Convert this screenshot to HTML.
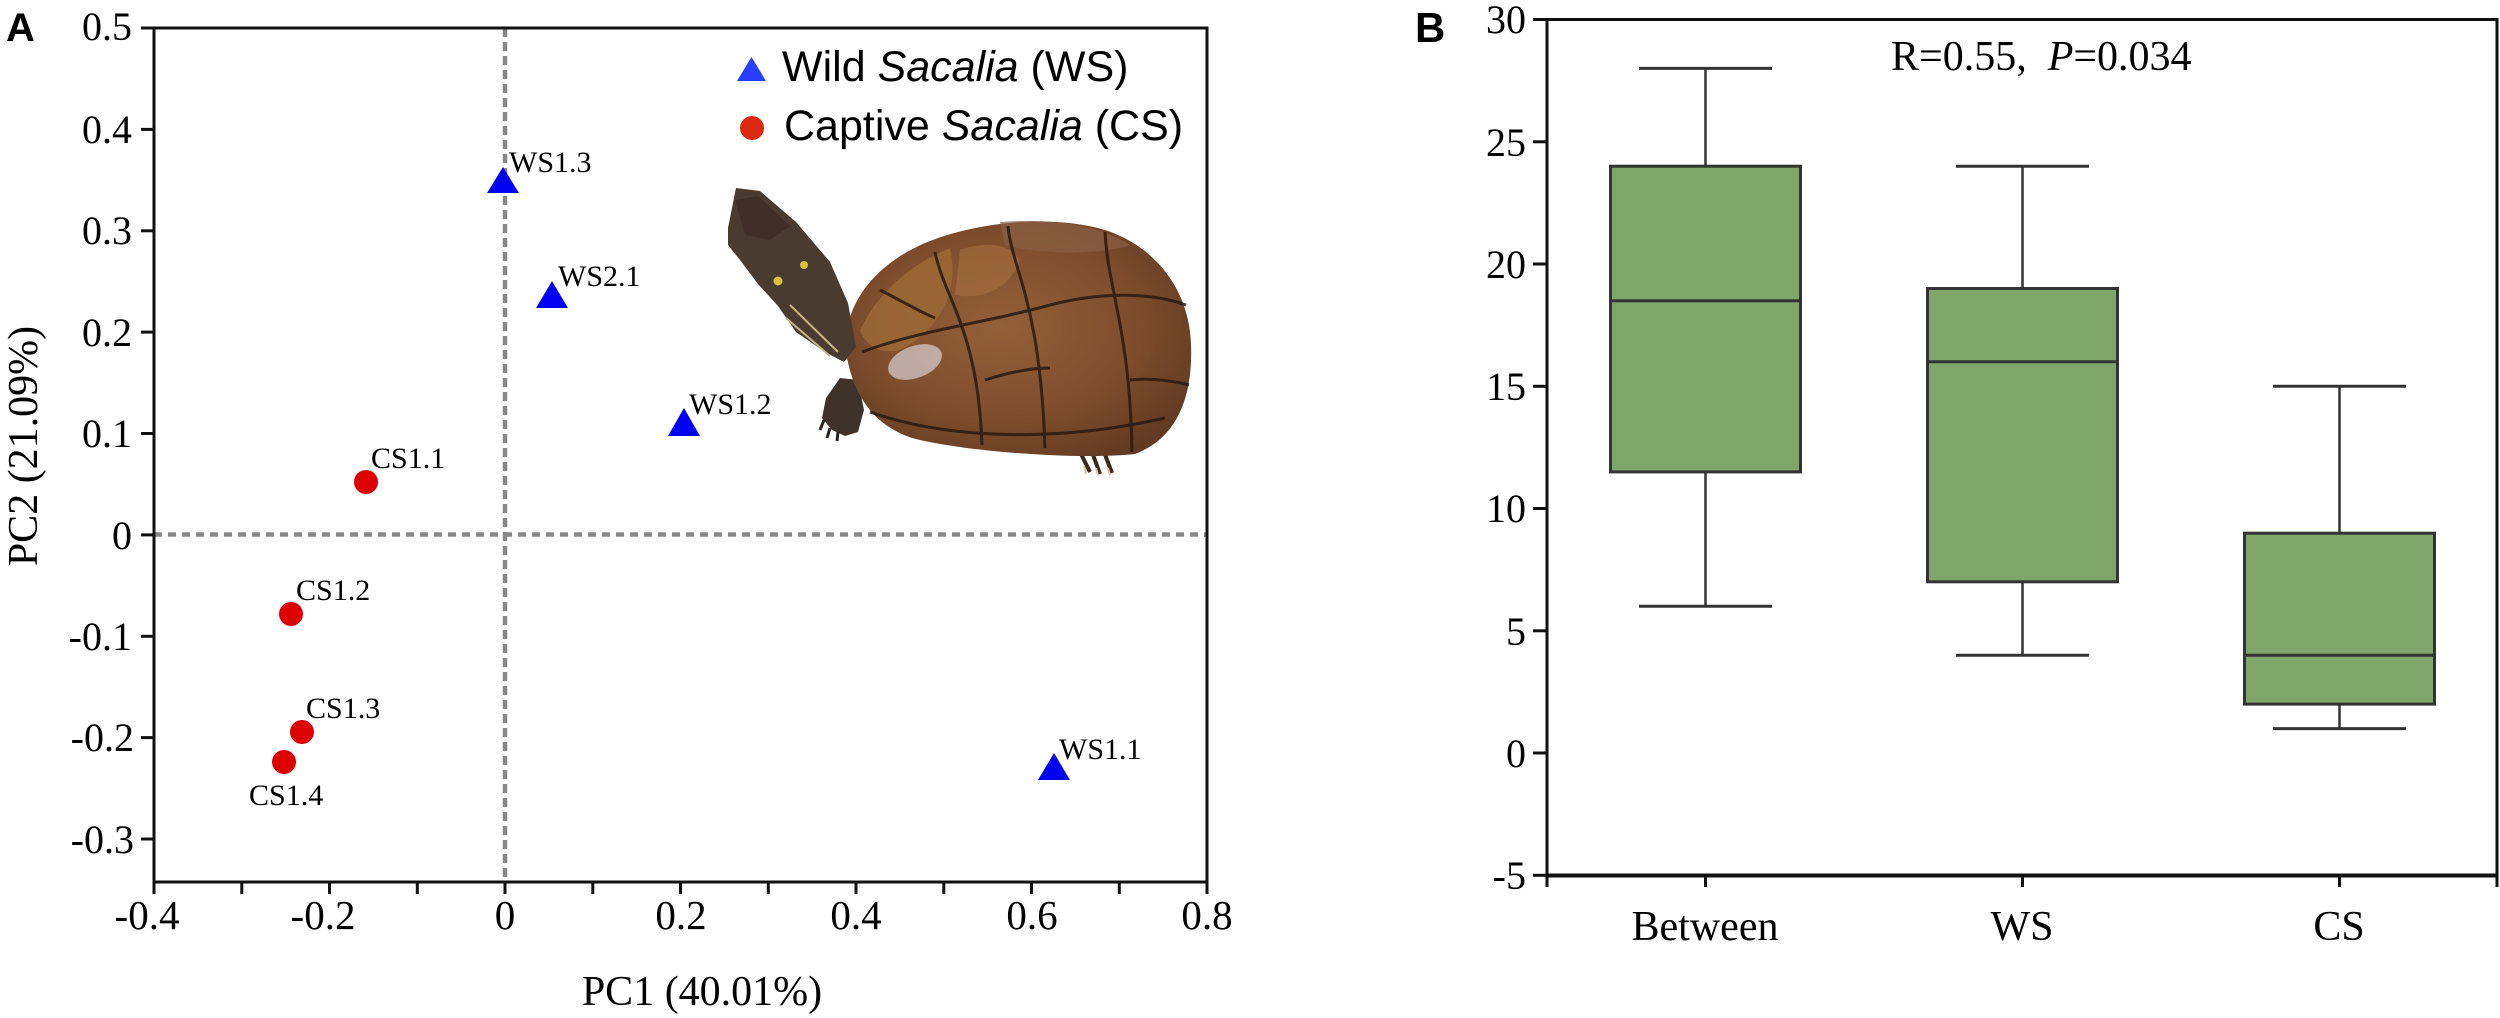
<!DOCTYPE html>
<html><head><meta charset="utf-8"><style>
html,body{margin:0;padding:0;background:#fff;}
svg{display:block;}
.serif{font-family:"Liberation Serif","Times New Roman",serif;}
.sans{font-family:"Liberation Sans",Arial,sans-serif;}
</style></head><body>
<svg width="2500" height="1018" viewBox="0 0 2500 1018" xmlns="http://www.w3.org/2000/svg">
<defs>
<radialGradient id="shell" cx="0.45" cy="0.45" r="0.65">
<stop offset="0" stop-color="#94603a"/><stop offset="0.6" stop-color="#7e4d2c"/><stop offset="1" stop-color="#603a22"/>
</radialGradient>
</defs>
<rect width="2500" height="1018" fill="#fff"/>

<!-- ============ PANEL A ============ -->
<text class="sans" x="6" y="41" font-size="40" font-weight="bold">A</text>

<!-- dashed zero lines -->
<line x1="154" y1="534.5" x2="1207" y2="534.5" stroke="#888" stroke-width="4.5" stroke-dasharray="8 6"/>
<line x1="505" y1="28" x2="505" y2="882" stroke="#888" stroke-width="4.5" stroke-dasharray="9 5"/>

<!-- frame & axes -->
<g stroke="#111" stroke-width="3" fill="none">
<line x1="154" y1="26.5" x2="154" y2="883.5"/>
<line x1="152.5" y1="882" x2="1208.5" y2="882"/>
<line x1="152.5" y1="28" x2="1208.5" y2="28"/>
<line x1="1207" y1="26.5" x2="1207" y2="883.5"/>
<line x1="141" y1="28" x2="154" y2="28"/>
<line x1="141" y1="129.4" x2="154" y2="129.4"/>
<line x1="141" y1="230.8" x2="154" y2="230.8"/>
<line x1="141" y1="332.1" x2="154" y2="332.1"/>
<line x1="141" y1="433.5" x2="154" y2="433.5"/>
<line x1="141" y1="534.9" x2="154" y2="534.9"/>
<line x1="141" y1="636.3" x2="154" y2="636.3"/>
<line x1="141" y1="737.6" x2="154" y2="737.6"/>
<line x1="141" y1="839" x2="154" y2="839"/>
<line x1="154" y1="882" x2="154" y2="894"/>
<line x1="241.8" y1="882" x2="241.8" y2="894"/>
<line x1="329.5" y1="882" x2="329.5" y2="894"/>
<line x1="417.3" y1="882" x2="417.3" y2="894"/>
<line x1="505" y1="882" x2="505" y2="894"/>
<line x1="592.8" y1="882" x2="592.8" y2="894"/>
<line x1="680.5" y1="882" x2="680.5" y2="894"/>
<line x1="768.3" y1="882" x2="768.3" y2="894"/>
<line x1="856" y1="882" x2="856" y2="894"/>
<line x1="943.8" y1="882" x2="943.8" y2="894"/>
<line x1="1031.5" y1="882" x2="1031.5" y2="894"/>
<line x1="1119.3" y1="882" x2="1119.3" y2="894"/>
<line x1="1207" y1="882" x2="1207" y2="894"/>
</g>

<g class="serif" font-size="40" text-anchor="end" fill="#000">
<text x="132" y="40">0.5</text>
<text x="132" y="143">0.4</text>
<text x="132" y="244">0.3</text>
<text x="132" y="346">0.2</text>
<text x="132" y="447">0.1</text>
<text x="132" y="549">0</text>
<text x="132" y="650">-0.1</text>
<text x="134" y="751">-0.2</text>
<text x="134" y="853">-0.3</text>
</g>
<g class="serif" font-size="41" text-anchor="middle" fill="#000">
<text x="147" y="929">-0.4</text>
<text x="323" y="929">-0.2</text>
<text x="505" y="929">0</text>
<text x="681" y="929">0.2</text>
<text x="856" y="929">0.4</text>
<text x="1032" y="929">0.6</text>
<text x="1207" y="929">0.8</text>
</g>
<text class="serif" x="702" y="1005" font-size="42" text-anchor="middle">PC1 (40.01%)</text>
<text class="serif" font-size="42" text-anchor="middle" transform="translate(37,446) rotate(-90)">PC2 (21.09%)</text>

<!-- turtle -->
<g>
<path d="M840,378 L858,380 L864,410 L858,432 L845,436 L832,430 L822,418 L826,398 Z" fill="#3e322b"/>
<path d="M824,420 l-4,10 M830,428 l-3,10 M838,432 l-1,9" stroke="#2a221c" stroke-width="3"/>
<path d="M1080,452 L1090,472 M1092,452 L1100,474 M1104,452 L1112,473" stroke="#3a2a1e" stroke-width="4"/>
<path d="M1084,466 l2,8 M1096,468 l2,7 M1108,468 l2,7" stroke="#d8c8a8" stroke-width="2"/>
<path d="M845,343 C848,300 875,265 925,243 C975,222 1050,214 1105,230 C1160,248 1190,295 1191,345 C1193,395 1178,438 1135,454 C1080,460 965,452 912,438 C875,426 850,395 845,343 Z" fill="url(#shell)"/>
<path d="M860,330 C880,290 910,265 950,248 C960,290 940,330 900,350 C880,355 865,345 860,330 Z" fill="#a06c38" opacity="0.75"/>
<path d="M960,250 C990,240 1010,245 1020,260 C1010,290 980,300 955,295 Z" fill="#a87040" opacity="0.6"/>
<path d="M1000,222 C1050,218 1100,225 1130,245 C1100,255 1040,255 1005,245 Z" fill="#8a6044" opacity="0.7"/>
<g stroke="#2a1a10" stroke-width="3" fill="none" opacity="0.85">
<path d="M870,412 C950,440 1060,442 1165,418"/>
<path d="M935,252 C945,300 978,330 982,445"/>
<path d="M1008,226 C1012,270 1040,300 1045,448"/>
<path d="M1105,232 C1108,290 1130,330 1132,452"/>
<path d="M862,352 C920,330 990,322 1050,305 C1100,292 1150,292 1186,305"/>
<path d="M880,290 C900,300 920,312 935,318"/>
<path d="M985,380 C1010,372 1030,368 1050,368"/>
<path d="M1130,380 C1150,378 1170,380 1189,385"/>
</g>
<ellipse cx="915" cy="362" rx="28" ry="16" fill="#e6e6f0" opacity="0.6" transform="rotate(-20 915 362)"/>
<path d="M728,228 L736,188 L760,191 L796,222 L830,262 L848,303 L856,347 L844,362 L825,352 L796,332 L778,306 L758,284 L740,260 L728,245 Z" fill="#4a3b31"/>
<path d="M735,200 L758,196 L790,226 L770,240 L745,235 Z" fill="#3f2f26"/>
<path d="M790,305 L838,352 M786,318 L830,356" stroke="#c8b48a" stroke-width="2" fill="none"/>
<circle cx="778" cy="281" r="4.5" fill="#d6c040"/>
<circle cx="804" cy="265" r="4" fill="#d6c040"/>
</g>

<!-- legend -->
<polygon points="751.5,57 766,81 737,81" fill="#2a3cff"/>
<text class="sans" x="782" y="81" font-size="43">Wild <tspan font-style="italic">Sacalia</tspan> (WS)</text>
<circle cx="752" cy="128" r="12" fill="#dc2a10"/>
<text class="sans" x="784" y="140" font-size="43">Captive <tspan font-style="italic">Sacalia</tspan> (CS)</text>

<!-- points -->
<g fill="#0000f0">
<polygon points="503,167 519,193 487,193"/>
<polygon points="552,281 568,308 536,308"/>
<polygon points="684,408 700,436 668,436"/>
<polygon points="1054,753 1070,780 1038,780"/>
</g>
<g fill="#dc0000">
<circle cx="366" cy="482" r="12"/>
<circle cx="291" cy="614" r="12"/>
<circle cx="302" cy="732" r="12"/>
<circle cx="284" cy="762" r="12"/>
</g>
<g class="serif" font-size="30" fill="#000">
<text x="509" y="172">WS1.3</text>
<text x="558" y="286">WS2.1</text>
<text x="689" y="414">WS1.2</text>
<text x="1059" y="759">WS1.1</text>
<text x="371" y="468">CS1.1</text>
<text x="296" y="600">CS1.2</text>
<text x="306" y="718">CS1.3</text>
<text x="249" y="805">CS1.4</text>
</g>

<!-- ============ PANEL B ============ -->
<text class="sans" x="1415" y="42" font-size="42" font-weight="bold">B</text>

<g stroke="#111" stroke-width="3" fill="none">
<line x1="1547" y1="18" x2="1547" y2="877"/>
<line x1="1545.5" y1="19.5" x2="2498.5" y2="19.5"/>
<line x1="2497" y1="18" x2="2497" y2="877"/>
<line x1="1545.5" y1="875.5" x2="2498.5" y2="875.5" stroke-width="4"/>
<line x1="1533" y1="19.5" x2="1547" y2="19.5"/>
<line x1="1533" y1="141.8" x2="1547" y2="141.8"/>
<line x1="1533" y1="264" x2="1547" y2="264"/>
<line x1="1533" y1="386.3" x2="1547" y2="386.3"/>
<line x1="1533" y1="508.5" x2="1547" y2="508.5"/>
<line x1="1533" y1="630.8" x2="1547" y2="630.8"/>
<line x1="1533" y1="753" x2="1547" y2="753"/>
<line x1="1533" y1="875.3" x2="1547" y2="875.3"/>
<line x1="1547" y1="875" x2="1547" y2="887"/>
<line x1="1705.5" y1="875" x2="1705.5" y2="887"/>
<line x1="2022.5" y1="875" x2="2022.5" y2="887"/>
<line x1="2339.5" y1="875" x2="2339.5" y2="887"/>
<line x1="2497" y1="875" x2="2497" y2="887"/>
</g>

<g class="serif" font-size="40" text-anchor="end" fill="#000">
<text x="1526" y="33">30</text>
<text x="1526" y="156">25</text>
<text x="1526" y="278">20</text>
<text x="1526" y="400">15</text>
<text x="1526" y="522">10</text>
<text x="1526" y="645">5</text>
<text x="1526" y="767">0</text>
<text x="1526" y="889">-5</text>
</g>

<g class="serif" font-size="42" text-anchor="middle" fill="#000">
<text x="1705" y="940">Between</text>
<text x="2022" y="940">WS</text>
<text x="2339" y="940">CS</text>
</g>

<text class="serif" x="1891" y="70" font-size="42">R=0.55,<tspan dx="21" font-style="italic">P</tspan>=0.034</text>

<g stroke="#333" stroke-width="2.5" fill="none">
<line x1="1705.5" y1="68.4" x2="1705.5" y2="166.2"/>
<line x1="1705.5" y1="471.9" x2="1705.5" y2="606.3"/>
<line x1="1639" y1="68.4" x2="1772" y2="68.4" stroke-width="3"/>
<line x1="1639" y1="606.3" x2="1772" y2="606.3" stroke-width="3"/>
<line x1="2022.5" y1="166.2" x2="2022.5" y2="288.5"/>
<line x1="2022.5" y1="581.8" x2="2022.5" y2="655.2"/>
<line x1="1956" y1="166.2" x2="2089" y2="166.2" stroke-width="3"/>
<line x1="1956" y1="655.2" x2="2089" y2="655.2" stroke-width="3"/>
<line x1="2339.5" y1="386.3" x2="2339.5" y2="533.2"/>
<line x1="2339.5" y1="704.1" x2="2339.5" y2="728.6"/>
<line x1="2273" y1="386.3" x2="2406" y2="386.3" stroke-width="3"/>
<line x1="2273" y1="728.6" x2="2406" y2="728.6" stroke-width="3"/>
</g>
<g fill="#7fa56b" stroke="#333" stroke-width="3">
<rect x="1610.5" y="166.2" width="190" height="305.7"/>
<rect x="1927.5" y="288.5" width="190" height="293.3"/>
<rect x="2244.5" y="533.2" width="190" height="170.9"/>
</g>
<g stroke="#333" stroke-width="3">
<line x1="1610.5" y1="300.7" x2="1800.5" y2="300.7"/>
<line x1="1927.5" y1="361.8" x2="2117.5" y2="361.8"/>
<line x1="2244.5" y1="655.2" x2="2434.5" y2="655.2"/>
</g>
</svg>
</body></html>
